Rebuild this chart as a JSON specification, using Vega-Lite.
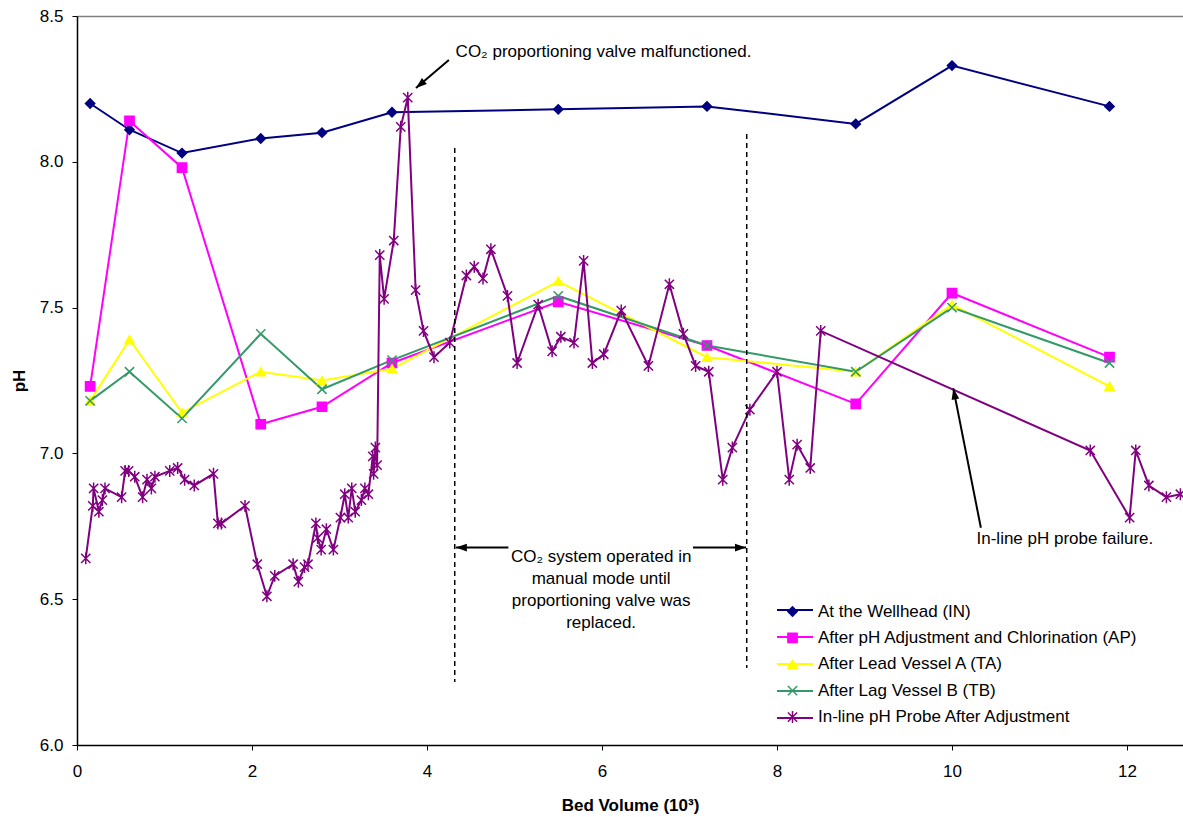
{
 "$schema": "https://vega.github.io/schema/vega-lite/v6.json",
 "width": 1106,
 "height": 729,
 "autosize": {"type": "none"},
 "padding": {"left": 77, "top": 16, "right": 0, "bottom": 72},
 "background": "white",
 "config": {
  "font": "Liberation Sans",
  "view": {"stroke": null},
  "axis": {"labelFont": "Liberation Sans", "titleFont": "Liberation Sans", "labelColor": "black", "titleColor": "black", "tickColor": "black", "domainColor": "black", "grid": false}
 },
 "datasets": {
  "series": [
   {"s": "At the Wellhead (IN)", "x": 0.15, "y": 8.20},
   {"s": "At the Wellhead (IN)", "x": 0.6, "y": 8.11},
   {"s": "At the Wellhead (IN)", "x": 1.2, "y": 8.03},
   {"s": "At the Wellhead (IN)", "x": 2.1, "y": 8.08},
   {"s": "At the Wellhead (IN)", "x": 2.8, "y": 8.10},
   {"s": "At the Wellhead (IN)", "x": 3.6, "y": 8.17},
   {"s": "At the Wellhead (IN)", "x": 5.5, "y": 8.18},
   {"s": "At the Wellhead (IN)", "x": 7.2, "y": 8.19},
   {"s": "At the Wellhead (IN)", "x": 8.9, "y": 8.13},
   {"s": "At the Wellhead (IN)", "x": 10.0, "y": 8.33},
   {"s": "At the Wellhead (IN)", "x": 11.8, "y": 8.19},
   {"s": "After pH Adjustment and Chlorination (AP)", "x": 0.15, "y": 7.23},
   {"s": "After pH Adjustment and Chlorination (AP)", "x": 0.6, "y": 8.14},
   {"s": "After pH Adjustment and Chlorination (AP)", "x": 1.2, "y": 7.98},
   {"s": "After pH Adjustment and Chlorination (AP)", "x": 2.1, "y": 7.10},
   {"s": "After pH Adjustment and Chlorination (AP)", "x": 2.8, "y": 7.16},
   {"s": "After pH Adjustment and Chlorination (AP)", "x": 3.6, "y": 7.31},
   {"s": "After pH Adjustment and Chlorination (AP)", "x": 5.5, "y": 7.52},
   {"s": "After pH Adjustment and Chlorination (AP)", "x": 7.2, "y": 7.37},
   {"s": "After pH Adjustment and Chlorination (AP)", "x": 8.9, "y": 7.17},
   {"s": "After pH Adjustment and Chlorination (AP)", "x": 10.0, "y": 7.55},
   {"s": "After pH Adjustment and Chlorination (AP)", "x": 11.8, "y": 7.33},
   {"s": "After Lead Vessel A (TA)", "x": 0.15, "y": 7.18},
   {"s": "After Lead Vessel A (TA)", "x": 0.6, "y": 7.39},
   {"s": "After Lead Vessel A (TA)", "x": 1.2, "y": 7.14},
   {"s": "After Lead Vessel A (TA)", "x": 2.1, "y": 7.28},
   {"s": "After Lead Vessel A (TA)", "x": 2.8, "y": 7.25},
   {"s": "After Lead Vessel A (TA)", "x": 3.6, "y": 7.29},
   {"s": "After Lead Vessel A (TA)", "x": 5.5, "y": 7.59},
   {"s": "After Lead Vessel A (TA)", "x": 7.2, "y": 7.33},
   {"s": "After Lead Vessel A (TA)", "x": 8.9, "y": 7.28},
   {"s": "After Lead Vessel A (TA)", "x": 10.0, "y": 7.51},
   {"s": "After Lead Vessel A (TA)", "x": 11.8, "y": 7.23},
   {"s": "After Lag Vessel B (TB)", "x": 0.15, "y": 7.18},
   {"s": "After Lag Vessel B (TB)", "x": 0.6, "y": 7.28},
   {"s": "After Lag Vessel B (TB)", "x": 1.2, "y": 7.12},
   {"s": "After Lag Vessel B (TB)", "x": 2.1, "y": 7.41},
   {"s": "After Lag Vessel B (TB)", "x": 2.8, "y": 7.22},
   {"s": "After Lag Vessel B (TB)", "x": 3.6, "y": 7.32},
   {"s": "After Lag Vessel B (TB)", "x": 5.5, "y": 7.54},
   {"s": "After Lag Vessel B (TB)", "x": 7.2, "y": 7.37},
   {"s": "After Lag Vessel B (TB)", "x": 8.9, "y": 7.28},
   {"s": "After Lag Vessel B (TB)", "x": 10.0, "y": 7.50},
   {"s": "After Lag Vessel B (TB)", "x": 11.8, "y": 7.31},
   {"s": "In-line pH Probe After Adjustment", "x": 0.10, "y": 6.64},
   {"s": "In-line pH Probe After Adjustment", "x": 0.18, "y": 6.82},
   {"s": "In-line pH Probe After Adjustment", "x": 0.19, "y": 6.88},
   {"s": "In-line pH Probe After Adjustment", "x": 0.25, "y": 6.80},
   {"s": "In-line pH Probe After Adjustment", "x": 0.29, "y": 6.84},
   {"s": "In-line pH Probe After Adjustment", "x": 0.32, "y": 6.88},
   {"s": "In-line pH Probe After Adjustment", "x": 0.51, "y": 6.85},
   {"s": "In-line pH Probe After Adjustment", "x": 0.55, "y": 6.94},
   {"s": "In-line pH Probe After Adjustment", "x": 0.59, "y": 6.94},
   {"s": "In-line pH Probe After Adjustment", "x": 0.66, "y": 6.92},
   {"s": "In-line pH Probe After Adjustment", "x": 0.75, "y": 6.85},
   {"s": "In-line pH Probe After Adjustment", "x": 0.80, "y": 6.91},
   {"s": "In-line pH Probe After Adjustment", "x": 0.85, "y": 6.88},
   {"s": "In-line pH Probe After Adjustment", "x": 0.89, "y": 6.92},
   {"s": "In-line pH Probe After Adjustment", "x": 1.06, "y": 6.94},
   {"s": "In-line pH Probe After Adjustment", "x": 1.15, "y": 6.95},
   {"s": "In-line pH Probe After Adjustment", "x": 1.23, "y": 6.91},
   {"s": "In-line pH Probe After Adjustment", "x": 1.34, "y": 6.89},
   {"s": "In-line pH Probe After Adjustment", "x": 1.56, "y": 6.93},
   {"s": "In-line pH Probe After Adjustment", "x": 1.61, "y": 6.76},
   {"s": "In-line pH Probe After Adjustment", "x": 1.65, "y": 6.76},
   {"s": "In-line pH Probe After Adjustment", "x": 1.92, "y": 6.82},
   {"s": "In-line pH Probe After Adjustment", "x": 2.06, "y": 6.62},
   {"s": "In-line pH Probe After Adjustment", "x": 2.17, "y": 6.51},
   {"s": "In-line pH Probe After Adjustment", "x": 2.26, "y": 6.58},
   {"s": "In-line pH Probe After Adjustment", "x": 2.47, "y": 6.62},
   {"s": "In-line pH Probe After Adjustment", "x": 2.53, "y": 6.56},
   {"s": "In-line pH Probe After Adjustment", "x": 2.60, "y": 6.61},
   {"s": "In-line pH Probe After Adjustment", "x": 2.64, "y": 6.62},
   {"s": "In-line pH Probe After Adjustment", "x": 2.73, "y": 6.76},
   {"s": "In-line pH Probe After Adjustment", "x": 2.75, "y": 6.71},
   {"s": "In-line pH Probe After Adjustment", "x": 2.79, "y": 6.67},
   {"s": "In-line pH Probe After Adjustment", "x": 2.85, "y": 6.74},
   {"s": "In-line pH Probe After Adjustment", "x": 2.93, "y": 6.67},
   {"s": "In-line pH Probe After Adjustment", "x": 3.01, "y": 6.78},
   {"s": "In-line pH Probe After Adjustment", "x": 3.06, "y": 6.86},
   {"s": "In-line pH Probe After Adjustment", "x": 3.10, "y": 6.78},
   {"s": "In-line pH Probe After Adjustment", "x": 3.14, "y": 6.88},
   {"s": "In-line pH Probe After Adjustment", "x": 3.18, "y": 6.80},
   {"s": "In-line pH Probe After Adjustment", "x": 3.25, "y": 6.84},
   {"s": "In-line pH Probe After Adjustment", "x": 3.29, "y": 6.88},
   {"s": "In-line pH Probe After Adjustment", "x": 3.33, "y": 6.86},
   {"s": "In-line pH Probe After Adjustment", "x": 3.38, "y": 6.99},
   {"s": "In-line pH Probe After Adjustment", "x": 3.39, "y": 6.93},
   {"s": "In-line pH Probe After Adjustment", "x": 3.41, "y": 7.02},
   {"s": "In-line pH Probe After Adjustment", "x": 3.43, "y": 6.96},
   {"s": "In-line pH Probe After Adjustment", "x": 3.46, "y": 7.68},
   {"s": "In-line pH Probe After Adjustment", "x": 3.51, "y": 7.53},
   {"s": "In-line pH Probe After Adjustment", "x": 3.62, "y": 7.73},
   {"s": "In-line pH Probe After Adjustment", "x": 3.70, "y": 8.12},
   {"s": "In-line pH Probe After Adjustment", "x": 3.78, "y": 8.22},
   {"s": "In-line pH Probe After Adjustment", "x": 3.87, "y": 7.56},
   {"s": "In-line pH Probe After Adjustment", "x": 3.96, "y": 7.42},
   {"s": "In-line pH Probe After Adjustment", "x": 4.08, "y": 7.33},
   {"s": "In-line pH Probe After Adjustment", "x": 4.26, "y": 7.38},
   {"s": "In-line pH Probe After Adjustment", "x": 4.45, "y": 7.61},
   {"s": "In-line pH Probe After Adjustment", "x": 4.54, "y": 7.64},
   {"s": "In-line pH Probe After Adjustment", "x": 4.64, "y": 7.60},
   {"s": "In-line pH Probe After Adjustment", "x": 4.73, "y": 7.70},
   {"s": "In-line pH Probe After Adjustment", "x": 4.92, "y": 7.54},
   {"s": "In-line pH Probe After Adjustment", "x": 5.03, "y": 7.31},
   {"s": "In-line pH Probe After Adjustment", "x": 5.27, "y": 7.51},
   {"s": "In-line pH Probe After Adjustment", "x": 5.43, "y": 7.35},
   {"s": "In-line pH Probe After Adjustment", "x": 5.53, "y": 7.40},
   {"s": "In-line pH Probe After Adjustment", "x": 5.68, "y": 7.38},
   {"s": "In-line pH Probe After Adjustment", "x": 5.79, "y": 7.66},
   {"s": "In-line pH Probe After Adjustment", "x": 5.89, "y": 7.31},
   {"s": "In-line pH Probe After Adjustment", "x": 6.02, "y": 7.34},
   {"s": "In-line pH Probe After Adjustment", "x": 6.22, "y": 7.49},
   {"s": "In-line pH Probe After Adjustment", "x": 6.53, "y": 7.30},
   {"s": "In-line pH Probe After Adjustment", "x": 6.77, "y": 7.58},
   {"s": "In-line pH Probe After Adjustment", "x": 6.93, "y": 7.41},
   {"s": "In-line pH Probe After Adjustment", "x": 7.07, "y": 7.30},
   {"s": "In-line pH Probe After Adjustment", "x": 7.22, "y": 7.28},
   {"s": "In-line pH Probe After Adjustment", "x": 7.38, "y": 6.91},
   {"s": "In-line pH Probe After Adjustment", "x": 7.49, "y": 7.02},
   {"s": "In-line pH Probe After Adjustment", "x": 7.69, "y": 7.15},
   {"s": "In-line pH Probe After Adjustment", "x": 8.00, "y": 7.28},
   {"s": "In-line pH Probe After Adjustment", "x": 8.14, "y": 6.91},
   {"s": "In-line pH Probe After Adjustment", "x": 8.23, "y": 7.03},
   {"s": "In-line pH Probe After Adjustment", "x": 8.38, "y": 6.95},
   {"s": "In-line pH Probe After Adjustment", "x": 8.50, "y": 7.42},
   {"s": "In-line pH Probe After Adjustment", "x": 11.58, "y": 7.01},
   {"s": "In-line pH Probe After Adjustment", "x": 12.03, "y": 6.78},
   {"s": "In-line pH Probe After Adjustment", "x": 12.10, "y": 7.01},
   {"s": "In-line pH Probe After Adjustment", "x": 12.25, "y": 6.89},
   {"s": "In-line pH Probe After Adjustment", "x": 12.45, "y": 6.85},
   {"s": "In-line pH Probe After Adjustment", "x": 12.61, "y": 6.86}
  ],
  "dashes": [
   {"x": 4.317, "y": 8.047, "x2": 4.317, "y2": 6.216},
   {"x": 7.654, "y": 8.095, "x2": 7.654, "y2": 6.264}
  ],
  "arrows": [
   {"id": "valve", "x": 4.25, "y": 8.349, "x2": 3.874, "y2": 8.253},
   {"id": "left", "x": 4.93, "y": 6.677, "x2": 4.33, "y2": 6.677},
   {"id": "right", "x": 7.04, "y": 6.677, "x2": 7.646, "y2": 6.677},
   {"id": "probe", "x": 10.33, "y": 6.745, "x2": 10.015, "y2": 7.223}
  ],
  "notes": [
   {"x": 6.017, "y": 8.377, "label": "CO₂ proportioning valve malfunctioned."},
   {"x": 5.99, "y": 6.645, "label": ["CO₂ system operated in", "manual mode until", "proportioning valve was", "replaced."]},
   {"x": 11.29, "y": 6.706, "label": "In-line pH probe failure."}
  ]
 },
 "encoding": {
  "x": {"field": "x", "type": "quantitative",
   "scale": {"domain": [0, 12.64], "nice": false, "zero": false},
   "axis": {"values": [0, 2, 4, 6, 8, 10, 12], "title": "Bed Volume (10³)", "titleFontSize": 17, "titleFontWeight": "bold", "labelFontSize": 17, "tickSize": 5, "labelPadding": 13, "titlePadding": 18, "domainWidth": 1.5, "labelFlush": false}},
  "y": {"field": "y", "type": "quantitative",
   "scale": {"domain": [6, 8.5], "nice": false, "zero": false},
   "axis": {"values": [6, 6.5, 7, 7.5, 8, 8.5], "format": ".1f", "title": "pH", "titleFontSize": 17, "titleFontWeight": "bold", "labelFontSize": 17, "tickSize": 5, "labelPadding": 9, "titlePadding": 11, "domainWidth": 1.5, "labelFlush": false, "grid": true, "gridColor": "#808080", "gridWidth": 1.5, "gridOpacity": {"condition": {"test": "datum.value == 8.5", "value": 1}, "value": 0}}}
 },
 "layer": [
  {
   "data": {"name": "series"},
   "mark": {"type": "line", "strokeWidth": 2},
   "encoding": {
    "color": {"field": "s", "type": "nominal",
     "scale": {"domain": ["In-line pH Probe After Adjustment", "After Lag Vessel B (TB)", "After Lead Vessel A (TA)", "After pH Adjustment and Chlorination (AP)", "At the Wellhead (IN)"], "range": ["#800080", "#339966", "#FFFF00", "#FF00FF", "#000080"]},
     "legend": {"orient": "none", "legendX": 699, "legendY": 575, "values": ["At the Wellhead (IN)", "After pH Adjustment and Chlorination (AP)", "After Lead Vessel A (TA)", "After Lag Vessel B (TB)", "In-line pH Probe After Adjustment"], "title": null, "padding": 0, "symbolType": "stroke", "symbolSize": 1296, "symbolStrokeWidth": 2, "labelFont": "Liberation Sans", "labelFontSize": 17, "labelExpr": "''", "labelLimit": 600, "labelOffset": 6, "rowPadding": -0.4}
    }
   }
  },
  {
   "data": {"name": "series"},
   "mark": {"type": "point", "filled": true, "opacity": 1, "strokeWidth": 1.5},
   "encoding": {
    "fill": {"field": "s", "type": "nominal",
     "scale": {"domain": ["At the Wellhead (IN)", "After pH Adjustment and Chlorination (AP)", "After Lead Vessel A (TA)", "After Lag Vessel B (TB)", "In-line pH Probe After Adjustment"], "range": ["#000080", "#FF00FF", "#FFFF00", "#339966", "#800080"]}},
    "stroke": {"field": "s", "type": "nominal",
     "scale": {"domain": ["At the Wellhead (IN)", "After pH Adjustment and Chlorination (AP)", "After Lead Vessel A (TA)", "After Lag Vessel B (TB)", "In-line pH Probe After Adjustment"], "range": ["#000080", "#FF00FF", "#FFFF00", "#339966", "#800080"]}},
    "shape": {"field": "s", "type": "nominal",
     "scale": {"domain": ["At the Wellhead (IN)", "After pH Adjustment and Chlorination (AP)", "After Lead Vessel A (TA)", "After Lag Vessel B (TB)", "In-line pH Probe After Adjustment"], "range": ["diamond", "square", "triangle-up", "M-1,-1L1,1M-1,1L1,-1", "M-1,-1L1,1M-1,1L1,-1M0,-1.3L0,1.3"]},
     "legend": {"orient": "none", "legendX": 707, "legendY": 587, "title": null, "padding": 0, "labelFont": "Liberation Sans", "labelFontSize": 17, "labelColor": "black", "labelLimit": 600, "labelOffset": 17, "rowPadding": 8.4}},
    "size": {"field": "s", "type": "nominal",
     "scale": {"domain": ["At the Wellhead (IN)", "After pH Adjustment and Chlorination (AP)", "After Lead Vessel A (TA)", "After Lag Vessel B (TB)", "In-line pH Probe After Adjustment"], "range": [85, 85, 115, 90, 100]}}
   }
  },
  {
   "data": {"name": "dashes"},
   "mark": {"type": "rule", "color": "black", "strokeWidth": 1.5, "strokeDash": [5, 4]},
   "encoding": {"x2": {"field": "x2"}, "y2": {"field": "y2"}}
  },
  {
   "data": {"name": "arrows"},
   "mark": {"type": "rule", "color": "black", "strokeWidth": 2},
   "encoding": {"x2": {"field": "x2"}, "y2": {"field": "y2"}}
  },
  {
   "data": {"name": "arrows"},
   "transform": [{"filter": "datum.id == 'valve'"}],
   "mark": {"type": "point", "shape": "M0,0L0.7,2L-0.7,2Z", "size": 121, "filled": true, "color": "black", "opacity": 1, "angle": 230},
   "encoding": {"x": {"field": "x2", "type": "quantitative"}, "y": {"field": "y2", "type": "quantitative"}}
  },
  {
   "data": {"name": "arrows"},
   "transform": [{"filter": "datum.id == 'left'"}],
   "mark": {"type": "point", "shape": "M0,0L0.7,2L-0.7,2Z", "size": 121, "filled": true, "color": "black", "opacity": 1, "angle": 270},
   "encoding": {"x": {"field": "x2", "type": "quantitative"}, "y": {"field": "y2", "type": "quantitative"}}
  },
  {
   "data": {"name": "arrows"},
   "transform": [{"filter": "datum.id == 'right'"}],
   "mark": {"type": "point", "shape": "M0,0L0.7,2L-0.7,2Z", "size": 121, "filled": true, "color": "black", "opacity": 1, "angle": 90},
   "encoding": {"x": {"field": "x2", "type": "quantitative"}, "y": {"field": "y2", "type": "quantitative"}}
  },
  {
   "data": {"name": "arrows"},
   "transform": [{"filter": "datum.id == 'probe'"}],
   "mark": {"type": "point", "shape": "M0,0L0.7,2L-0.7,2Z", "size": 121, "filled": true, "color": "black", "opacity": 1, "angle": 349},
   "encoding": {"x": {"field": "x2", "type": "quantitative"}, "y": {"field": "y2", "type": "quantitative"}}
  },
  {
   "data": {"name": "notes"},
   "mark": {"type": "text", "font": "Liberation Sans", "fontSize": 17, "color": "black", "align": "center", "baseline": "middle", "lineHeight": 22},
   "encoding": {"text": {"field": "label"}}
  }
 ]
}
